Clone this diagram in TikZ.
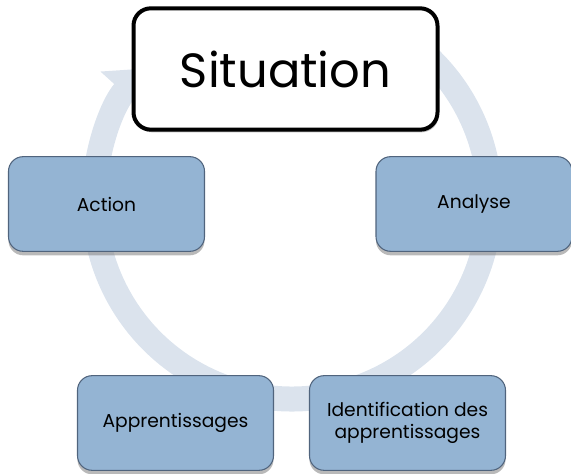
\documentclass[tikz,border=0pt]{standalone}
\usepackage{fontspec}
\setmainfont{Poppins}
\usepackage{xcolor}
\usepackage{tikz}
\usetikzlibrary{arrows.meta,shadows}

\definecolor{ringblue}{RGB}{219,227,237}
\definecolor{boxblue}{RGB}{148,180,211}
\definecolor{boxline}{RGB}{80,100,125}

\begin{document}
\begin{tikzpicture} [ x=0.75pt, y=0.75pt,
    cyclebox/.style={draw=boxline, line width=0.8pt, fill=boxblue,
      rounded corners=11pt, minimum width=147pt, minimum height=71pt,
      align=center, font=\fontsize{14}{16.5}\selectfont,
      drop shadow={opacity=0.55, shadow xshift=0pt, shadow yshift=-3pt}},
    ]
    \useasboundingbox (0,0) rectangle (571,474);

    \draw[ringblue, line width=18.75pt, -{Triangle[width=45pt,length=24pt]}]
    (292,273) ++(60:198) arc[start angle=60, end angle=-222, radius=198];

    \node[draw=black, line width=3pt, fill=white, rounded corners=13pt,
      minimum width=228pt, minimum height=91pt,
      drop shadow={opacity=0.5, shadow xshift=1pt, shadow yshift=-2pt},
      font=\fontsize{36}{44}\selectfont] (situation) at (285.5,405) {Situation};
    \node[cyclebox] (action) at (106.5,270) {Action};
    \node[cyclebox] (analyse) at (474,270) {Analyse};
    \node[cyclebox] (ident) at (407.5,51) {Identification des\\apprentissages};
    \node[cyclebox] (appr) at (175.5,51) {Apprentissages};

\end{tikzpicture}
\end{document}
